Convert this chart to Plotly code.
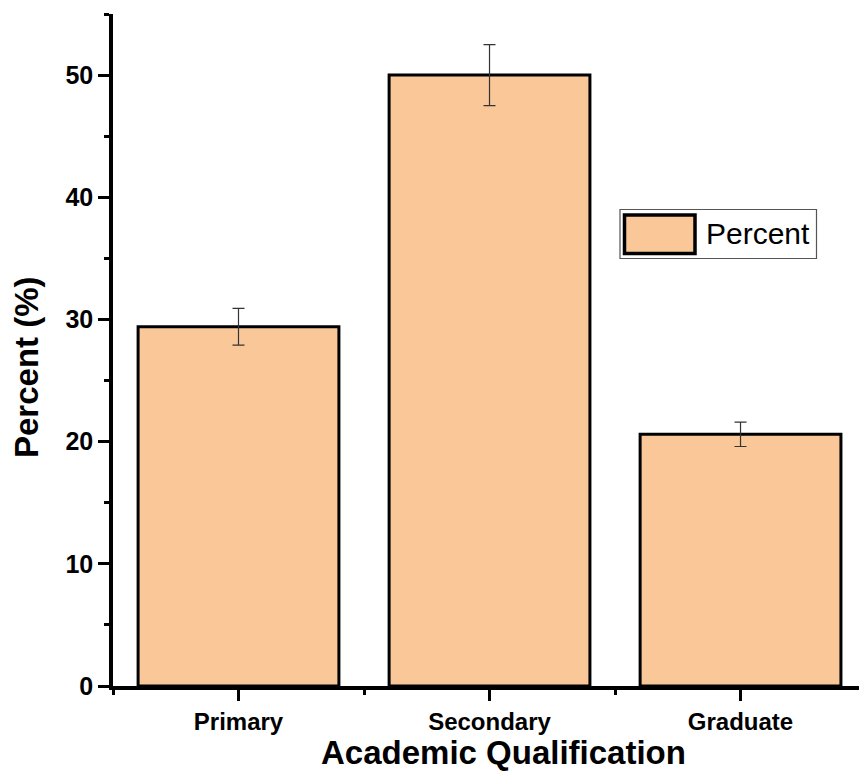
import plotly.graph_objects as go

# Survey share by academic qualification
categories = ["Primary", "Secondary", "Graduate"]
percent = [29.4, 50.0, 20.6]
errors = [1.5, 2.5, 1.0]
y_ticks = [0, 10, 20, 30, 40, 50]

BAR_FILL = "#FAC898"
FONT = "Arial, Liberation Sans, sans-serif"

W, H = 859, 772
L, R, T, B = 113, 0, 14, 86
PW, PH = W - L - R, H - T - B


def px(x):
    return (x - L) / PW


def py(y):
    return (H - B - y) / PH


fig = go.Figure()
fig.add_trace(go.Bar(
    x=list(range(len(categories))),
    y=percent,
    width=0.8,
    name="Percent",
    marker=dict(color=BAR_FILL, line=dict(color="black", width=3)),
    error_y=dict(type="data", array=errors, visible=True,
                 color="#333333", thickness=1.2, width=6),
    showlegend=False,
))

fig.update_layout(
    width=W, height=H,
    margin=dict(l=L, r=R, t=T, b=B),
    paper_bgcolor="white", plot_bgcolor="white",
    font=dict(family=FONT, color="black"),
    xaxis=dict(
        range=[-0.5, 2.472],
        tickmode="array",
        tickvals=list(range(len(categories))),
        ticktext=categories,
        tickfont=dict(size=24, family=FONT, weight="bold"),
        ticks="outside", ticklen=11, tickwidth=3, tickcolor="black",
        minor=dict(tickmode="array", tickvals=[-0.5, 0.5, 1.5, 2.5],
                   ticks="outside", ticklen=5, tickwidth=3, tickcolor="black"),
        showline=True, linecolor="black", linewidth=3.5,
        showgrid=False, zeroline=False,
    ),
    yaxis=dict(
        range=[0, 55],
        tickmode="array",
        tickvals=y_ticks,
        tickfont=dict(size=25, family=FONT, weight="bold"),
        ticks="outside", ticklen=11, tickwidth=3, tickcolor="black",
        minor=dict(tickmode="linear", tick0=0, dtick=5,
                   ticks="outside", ticklen=5, tickwidth=3, tickcolor="black"),
        showline=True, linecolor="black", linewidth=3.5,
        showgrid=False, zeroline=False,
    ),
)

# Axis titles
fig.add_annotation(text="<b>Academic Qualification</b>", xref="paper", yref="paper",
                   x=px(503), y=py(752), xanchor="center", yanchor="middle",
                   showarrow=False, font=dict(size=33, family=FONT))
fig.add_annotation(text="<b>Percent (%)</b>", xref="paper", yref="paper",
                   x=px(26), y=py(367), xanchor="center", yanchor="middle",
                   textangle=-90, showarrow=False, font=dict(size=33, family=FONT))

# Legend box with swatch
fig.add_shape(type="rect", xref="paper", yref="paper",
              x0=px(620), x1=px(816.5), y0=py(258.5), y1=py(209.5),
              line=dict(color="#555555", width=1.2), fillcolor="white", layer="above")
fig.add_shape(type="rect", xref="paper", yref="paper",
              x0=px(624.5), x1=px(695), y0=py(253.5), y1=py(215),
              line=dict(color="black", width=3.5), fillcolor=BAR_FILL, layer="above")
fig.add_annotation(text="Percent", xref="paper", yref="paper",
                   x=px(704), y=py(234), xanchor="left", yanchor="middle",
                   showarrow=False, font=dict(size=30, family=FONT))

fig.write_html("out.html")
